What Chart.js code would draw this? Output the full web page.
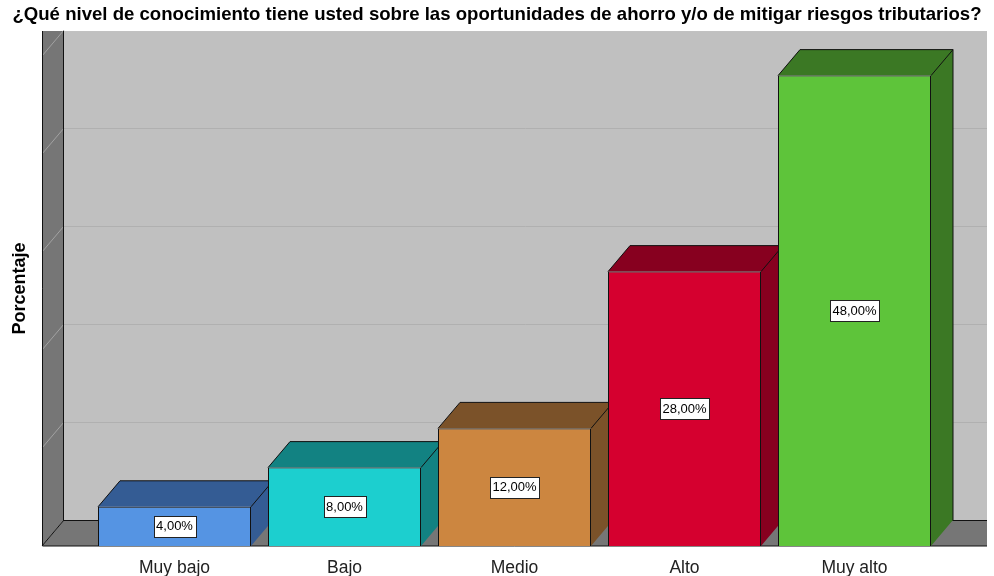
<!DOCTYPE html>
<html lang="es">
  <head>
    <meta charset="UTF-8" />
    <title>Nivel de conocimiento</title>
    <script src="https://cdn.jsdelivr.net/npm/chart.js"></script>
    <style>
      body {
        margin: 0;
        padding: 0;
        background-color: #fff;
      }
      #chartContainer {
        width: 994px;
        height: 576px;
      }
    </style>
  </head>
  <body>
    <div id="chartContainer">
      <canvas id="nivelChart"></canvas>
    </div>

    <script>
      const categorias = ["Muy bajo", "Bajo", "Medio", "Alto", "Muy alto"];
      const porcentajes = [4, 8, 12, 28, 48];
      const gridTicks = [10, 20, 30, 40, 50];

      const frontColors = ["#5594e3", "#1ccfcf", "#cc8640", "#d5002f", "#5ec43a"];
      const darkColors = ["#345c94", "#128282", "#7b5229", "#87001f", "#3b7824"];

      // 3D depth offset and how far the walls reach past the bars
      const DX = 22;
      const DY = 26;
      const WALL = 47.5;
      const FONT = '"Liberation Sans", Arial, sans-serif';

      const box3d = {
        id: "box3d",
        beforeDatasetsDraw(chart) {
          const { ctx, chartArea: a, scales } = chart;
          const y = scales.y;
          const xl = a.left - WALL;
          const xr = a.right + WALL;
          const base = y.getPixelForValue(0);
          const top = y.getPixelForValue(50) - DY + 1;

          ctx.save();
          // back wall
          ctx.fillStyle = "#c0c0c0";
          ctx.fillRect(xl + DX, top, xr - xl - DX, base - DY - top);

          ctx.lineWidth = 1;
          ctx.strokeStyle = "#b0b0b0";
          gridTicks.forEach((v) => {
            const py = Math.round(y.getPixelForValue(v) - DY) + 0.5;
            if (py <= top) return;
            ctx.beginPath();
            ctx.moveTo(xl + DX, py);
            ctx.lineTo(xr, py);
            ctx.stroke();
          });

          // left wall
          ctx.fillStyle = "#767676";
          ctx.beginPath();
          ctx.moveTo(xl, top);
          ctx.lineTo(xl + DX, top);
          ctx.lineTo(xl + DX, base - DY);
          ctx.lineTo(xl, base);
          ctx.closePath();
          ctx.fill();

          ctx.strokeStyle = "#a2a2a2";
          gridTicks.forEach((v) => {
            const py = y.getPixelForValue(v);
            ctx.beginPath();
            ctx.moveTo(xl, py);
            ctx.lineTo(xl + DX, py - DY);
            ctx.stroke();
          });

          // floor
          ctx.fillStyle = "#767676";
          ctx.beginPath();
          ctx.moveTo(xl, base);
          ctx.lineTo(xl + DX, base - DY);
          ctx.lineTo(xr, base - DY);
          ctx.lineTo(xr, base);
          ctx.closePath();
          ctx.fill();

          ctx.strokeStyle = "#111";
          ctx.beginPath();
          ctx.moveTo(xl + 0.5, top);
          ctx.lineTo(xl + 0.5, base);
          ctx.lineTo(xr, base);
          ctx.moveTo(xl + DX - 0.5, top);
          ctx.lineTo(xl + DX - 0.5, base - DY + 0.5);
          ctx.lineTo(xr, base - DY + 0.5);
          ctx.moveTo(xl, base);
          ctx.lineTo(xl + DX, base - DY);
          ctx.stroke();

          // top and side faces of every bar
          const meta = chart.getDatasetMeta(0);
          meta.data.forEach((bar, i) => {
            const l = bar.x - bar.width / 2;
            const r = bar.x + bar.width / 2;
            const t = bar.y;
            const b = bar.base;
            ctx.fillStyle = darkColors[i];
            ctx.strokeStyle = "#111";
            ctx.beginPath();
            ctx.moveTo(l, t);
            ctx.lineTo(l + DX, t - DY);
            ctx.lineTo(r + DX, t - DY);
            ctx.lineTo(r + DX, b - DY);
            ctx.lineTo(r, b);
            ctx.lineTo(r, t);
            ctx.closePath();
            ctx.fill();
            ctx.beginPath();
            ctx.moveTo(l, t);
            ctx.lineTo(l + DX, t - DY);
            ctx.lineTo(r + DX, t - DY);
            ctx.lineTo(r + DX, b - DY);
            ctx.moveTo(r, t);
            ctx.lineTo(r + DX, t - DY);
            ctx.stroke();
          });

          // y axis title
          ctx.fillStyle = "#000";
          ctx.font = "bold 18px " + FONT;
          ctx.textAlign = "center";
          ctx.textBaseline = "middle";
          ctx.translate(20, (top + base) / 2);
          ctx.rotate(-Math.PI / 2);
          ctx.fillText("Porcentaje", 0, 0);
          ctx.restore();
        },
        afterDatasetsDraw(chart) {
          const { ctx } = chart;
          const meta = chart.getDatasetMeta(0);
          ctx.save();
          ctx.font = "13px " + FONT;
          ctx.textAlign = "center";
          ctx.textBaseline = "middle";
          meta.data.forEach((bar, i) => {
            const text = porcentajes[i].toFixed(2).replace(".", ",") + "%";
            const w = Math.round(ctx.measureText(text).width + 5);
            const h = 21;
            const cx = bar.x;
            const cy = (bar.y + bar.base) / 2;
            const bx = Math.round(cx - w / 2) + 0.5;
            const by = Math.round(cy - h / 2) + 0.5;
            ctx.fillStyle = "#fff";
            ctx.fillRect(bx, by, w, h);
            ctx.strokeStyle = "#222";
            ctx.lineWidth = 1;
            ctx.strokeRect(bx, by, w, h);
            ctx.fillStyle = "#000";
            ctx.fillText(text, cx, cy + 0.5);
          });
          ctx.restore();
        },
      };

      // side axes only reserve room for the walls, nothing is drawn on them
      const hiddenAxis = (position, width) => ({
        position: position,
        display: true,
        min: 0,
        max: 50,
        grid: { display: false, drawTicks: false },
        border: { display: false },
        ticks: { display: false },
        afterFit: (scale) => {
          scale.width = width;
        },
      });

      const ctx = document.getElementById("nivelChart").getContext("2d");
      new Chart(ctx, {
        type: "bar",
        data: {
          labels: categorias,
          datasets: [
            {
              data: porcentajes,
              backgroundColor: frontColors,
              borderColor: "#111",
              borderWidth: 1,
              barPercentage: 0.9,
              categoryPercentage: 1,
            },
          ],
        },
        options: {
          responsive: true,
          maintainAspectRatio: false,
          animation: false,
          layout: {
            padding: 0,
          },
          scales: {
            x: {
              grid: { display: false, drawTicks: false },
              border: { display: false },
              ticks: {
                color: "#222",
                padding: 12,
                font: { family: FONT, size: 17.5 },
              },
              afterFit: (scale) => {
                scale.height = 30;
              },
            },
            y: hiddenAxis("left", 89.5),
            yRight: hiddenAxis("right", 54.5),
          },
          plugins: {
            legend: { display: false },
            tooltip: { enabled: false },
            title: {
              display: true,
              text: "¿Qué nivel de conocimiento tiene usted sobre las oportunidades de ahorro y/o de mitigar riesgos tributarios?",
              color: "#000",
              font: { family: FONT, size: 18.6, weight: "bold", lineHeight: 1.2 },
              padding: { top: 4, bottom: 29.7 },
            },
          },
        },
        plugins: [box3d],
      });
    </script>
  </body>
</html>
